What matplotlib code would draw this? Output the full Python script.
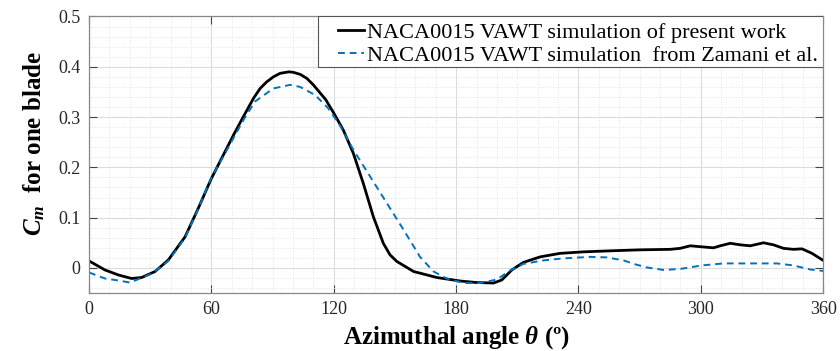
import matplotlib
matplotlib.use("Agg")
import matplotlib.pyplot as plt
from matplotlib.patches import Rectangle
from matplotlib.ticker import MultipleLocator

# present work (black solid)
theta_present = [0, 7.8, 14.4, 20.9, 25.8, 32.4, 38.9, 47.1, 53.6, 60, 65.9, 70.8, 75.7,
                 80.6, 83.9, 87.1, 90.4, 93.7, 98, 100.2, 103.5, 106.8, 110, 116, 120,
                 124.7, 129.6, 134.5, 139.4, 144.3, 147.6, 150.9, 154.2, 159.1, 170.5,
                 182, 190, 198.3, 202.4, 207.3, 213, 221.2, 231, 242.4, 255.5, 270, 285,
                 289.9, 294.8, 300.5, 306.2, 309.5, 314.4, 319.3, 324.2, 330.7, 335.6,
                 340.5, 345.4, 349.6, 354.5, 360]
cm_present = [0.014, -0.004, -0.014, -0.021, -0.019, -0.007, 0.016, 0.062, 0.119, 0.178,
              0.225, 0.264, 0.301, 0.337, 0.357, 0.370, 0.380, 0.387, 0.390, 0.389, 0.385,
              0.377, 0.364, 0.335, 0.308, 0.274, 0.228, 0.168, 0.102, 0.049, 0.026, 0.013,
              0.005, -0.007, -0.019, -0.026, -0.029, -0.030, -0.024, -0.004, 0.011, 0.022,
              0.029, 0.032, 0.034, 0.036, 0.037, 0.039, 0.044, 0.042, 0.040, 0.044, 0.049,
              0.046, 0.044, 0.050, 0.046, 0.039, 0.037, 0.038, 0.029, 0.015]

# Zamani et al. (blue dashed)
theta_zamani = [0, 7.8, 14.4, 20, 25, 31, 38.9, 47.1, 53.6, 60, 65.9, 70.8, 75.7, 81.4,
                90.4, 98.6, 103.5, 110.8, 117.4, 123.1, 129.6, 137.8, 146, 154.2, 162.3,
                168.9, 175.4, 183.6, 191.8, 200, 206.5, 213, 222.8, 232.6, 245.7, 253.9,
                262.1, 268, 273.5, 281.7, 289.9, 300.5, 311.1, 322.6, 337.3, 345.4, 353.6, 360]
cm_zamani = [-0.009, -0.021, -0.025, -0.029, -0.021, -0.011, 0.014, 0.060, 0.118, 0.180,
             0.222, 0.258, 0.294, 0.331, 0.357, 0.364, 0.360, 0.344, 0.317, 0.283, 0.235,
             0.182, 0.129, 0.076, 0.022, -0.007, -0.021, -0.030, -0.030, -0.023, -0.005,
             0.008, 0.015, 0.019, 0.022, 0.021, 0.015, 0.007, 0.001, -0.004, -0.002, 0.005,
             0.009, 0.009, 0.009, 0.005, -0.003, -0.006]

xticks = [0, 60, 120, 180, 240, 300, 360]
yticks = [0, 0.1, 0.2, 0.3, 0.4, 0.5]

plt.rcParams["font.family"] = ["Liberation Serif", "DejaVu Serif"]
plt.rcParams["mathtext.fontset"] = "custom"
plt.rcParams["mathtext.rm"] = "Liberation Serif:bold"
plt.rcParams["mathtext.it"] = "Liberation Serif:italic:bold"
plt.rcParams["mathtext.bf"] = "Liberation Serif:bold"

fig = plt.figure(figsize=(8.4, 3.51), dpi=100)
ax = fig.add_axes([0.106, 0.165, 0.874, 0.788])

ax.plot(theta_present, cm_present, color="black", lw=2.0,
        label="NACA0015 VAWT simulation of present work")
ax.plot(theta_zamani, cm_zamani, color="#0072BD", lw=1.4, ls=(0, (3.5, 2.5)),
        label="NACA0015 VAWT simulation  from Zamani et al.")

ax.set_xlim(0, 360)
ax.set_ylim(-0.05, 0.5)
ax.set_xticks(xticks)
ax.set_yticks(yticks)
ax.set_yticklabels(["0", "0.1", "0.2", "0.3", "0.4", "0.5"])
ax.xaxis.set_minor_locator(MultipleLocator(10))
ax.yaxis.set_minor_locator(MultipleLocator(0.02))
ax.grid(which="major", color="#dcdcdc", lw=0.8)
ax.grid(which="minor", color="#e4e4e4", lw=0.7, ls=":")
ax.set_axisbelow(True)
ax.tick_params(which="major", direction="in", length=6, width=0.8, color="#444444",
               labelsize=13, labelcolor="#262626", top=True, right=True, pad=6)
ax.tick_params(which="minor", length=0)
for s in ax.spines.values():
    s.set_color("#888888")
    s.set_linewidth(0.9)

ax.set_xlabel(r"Azimuthal angle $\theta$ (º)", fontsize=18, fontweight="bold", labelpad=4)
ax.set_ylabel(r"$C_m$  for one blade", fontsize=18, fontweight="bold")
ax.yaxis.set_label_coords(-0.057, 0.54)

leg = ax.legend(loc="upper right", bbox_to_anchor=(0.997, 0.99), fontsize=16,
                handlelength=1.2, handletextpad=0.1, borderaxespad=0,
                borderpad=0.15, labelspacing=0.1, frameon=False)
leg.set_zorder(6)

# MATLAB-like legend box: wide left margin, flush with the axes top/right
box = Rectangle((0.312, 0.817), 0.688, 0.183, transform=ax.transAxes,
                facecolor="white", edgecolor="#555555", lw=0.8, zorder=5)
ax.add_patch(box)

fig.savefig("out.png", dpi=100)
